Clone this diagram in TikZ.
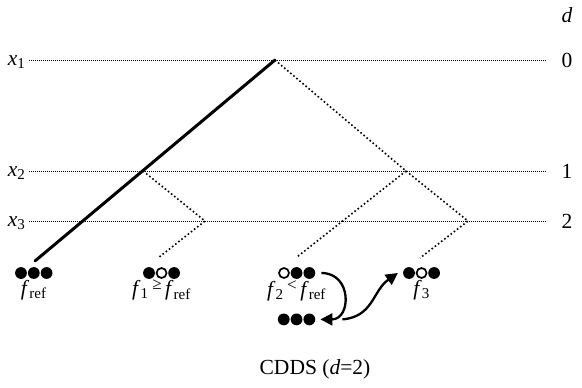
\documentclass[tikz,border=0pt]{standalone}
\usepackage{fontspec}
\setmainfont{Liberation Serif}
\usetikzlibrary{positioning, arrows.meta}

\newcommand{\rel}[1]{\,\raisebox{0.28em}{\fontsize{17}{17}\selectfont #1}\,}

\begin{document}
\begin{tikzpicture}[
    x=1pt, y=-1pt,
    node distance=0.6pt,
    font=\fontsize{21.5}{24}\selectfont,
    full/.style={circle, fill=black, inner sep=0pt, minimum size=11.8pt},
    hole/.style={circle, draw=black, line width=1.7pt, fill=white, inner sep=0pt, minimum size=10pt},
    level/.style={dash pattern=on 0.8pt off 1.2pt, line width=0.8pt},
    branch/.style={dash pattern=on 1.6pt off 2.4pt, line width=1.6pt},
    best/.style={line width=3pt, line cap=round},
    swap/.style={-{Triangle[length=12pt, width=12pt]}, line width=2.3pt},
    lab/.style={inner sep=1pt}
  ]
  \useasboundingbox (0,0) rectangle (582,388);

  % level labels
  \node (dlab) at (567,15) {\textit{d}};
  \node[anchor=base east] (x1) at (29,65) {\textit{x}\textsubscript{1}};
  \node[anchor=base east] (x2) at (29,176) {\textit{x}\textsubscript{2}};
  \node[anchor=base east] (x3) at (29,226) {\textit{x}\textsubscript{3}};
  \node (d0) at (567,60) {0};
  \node (d1) at (567,171) {1};
  \node (d2) at (567,221) {2};
  \coordinate (e1) at (546,60);
  \coordinate (e2) at (546,171);
  \coordinate (e3) at (546,221);
  \draw[level] (x1.east |- e1) -- (e1);
  \draw[level] (x2.east |- e2) -- (e2);
  \draw[level] (x3.east |- e3) -- (e3);

  % tree
  \coordinate (root) at (275,60);
  \coordinate (n21) at (143,171);
  \coordinate (n22) at (406,171);
  \coordinate (n31) at (205,221);
  \coordinate (n33) at (468,221);
  \coordinate (t0) at (35,261);
  \coordinate (t1) at (158,258);
  \coordinate (t2) at (297,257);
  \coordinate (t3) at (420,258);
  \draw[best] (root) -- (t0);
  \draw[branch] (root) -- (n22);
  \draw[branch] (n21) -- (n31) -- (t1);
  \draw[branch] (n22) -- (t2);
  \draw[branch] (n22) -- (n33) -- (t3);

  % solutions
  \node[full] (r1) at (21,273) {};
  \node[full, right=of r1] (r2) {};
  \node[full, right=of r2] (r3) {};
  \node[lab, below=0pt of r2] (fr) {\textit{f}\textsubscript{ref}};

  \node[full] (p1) at (149,273) {};
  \node[hole, right=of p1] (p2) {};
  \node[full, right=of p2] (p3) {};
  \node[lab, below=0pt of p2] (f1) {\textit{f}\textsubscript{1}\rel{≥}\textit{f}\textsubscript{ref}};

  \node[hole] (q1) at (284,273) {};
  \node[full, right=of q1] (q2) {};
  \node[full, right=of q2] (q3) {};
  \node[lab, below=0pt of q2] (f2) {\textit{f}\textsubscript{2}\rel{<}\textit{f}\textsubscript{ref}};
  \node[full, below=34.2pt of q2] (s2) {};
  \node[full, left=of s2] (s1) {};
  \node[full, right=of s2] (s3) {};

  \node[full] (u1) at (409,273) {};
  \node[hole, right=of u1] (u2) {};
  \node[full, right=of u2] (u3) {};
  \node[lab, below=0pt of u2] (f3) {\textit{f}\textsubscript{3}};

  % moves
  \draw[swap] ([xshift=6pt]q3.east) to[out=0, in=0, looseness=1.7] ([xshift=5pt]s3.east);
  \draw[swap] ([xshift=27pt]s3.east) to[out=5, in=215, looseness=1.1] ([xshift=-5pt]u1.west);

  \node (cap) at (315,369) {CDDS (\textit{d}=2)};
\end{tikzpicture}
\end{document}
